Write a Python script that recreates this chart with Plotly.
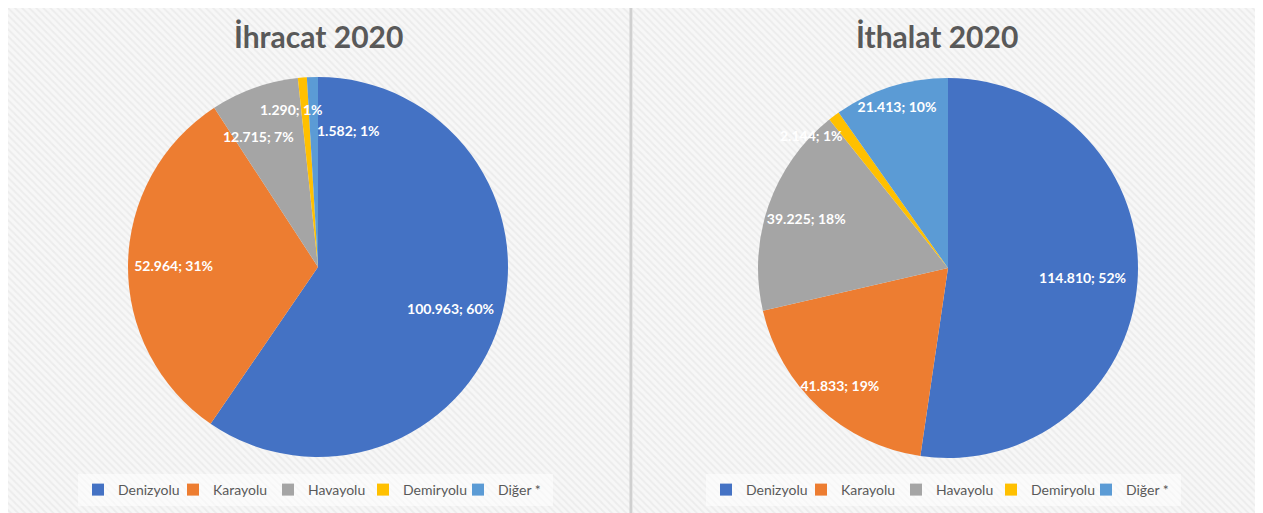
import math
import plotly.graph_objects as go

categories = ["Denizyolu", "Karayolu", "Havayolu", "Demiryolu", "Diğer *"]
ihracat_values = [100963, 52964, 12715, 1290, 1582]
ihracat_pct = [60, 31, 7, 1, 1]
ithalat_values = [114810, 41833, 39225, 2144, 21413]
ithalat_pct = [52, 19, 18, 1, 10]
titles = ["İhracat 2020", "İthalat 2020"]
colors = ["#4472C4", "#ED7D31", "#A5A5A5", "#FFC000", "#5B9BD5"]

# screen size; the page body has an 8px default margin, so the figure sits at (8, 8)
W, H, OFF = 1263, 513, 8
FW, FH = W - OFF, H - OFF
FONT = "Lato"


def px(x):
    return (x - OFF) / FW


def py(y):
    return (H - y) / FH


fmt = lambda v: f"{v:,}".replace(",", ".")

fig = go.Figure()


def panel(x0, x1, y0, y1):
    fig.add_trace(go.Scatter(
        x=[x0, x1, x1, x0, x0], y=[y0, y0, y1, y1, y0],
        mode="lines", fill="toself", line=dict(width=0),
        fillcolor="#f4f4f4",
        fillpattern=dict(shape="\\", bgcolor="#f7f7f7", fgcolor="#e2e2e2",
                         size=5, solidity=0.35),
        hoverinfo="skip", showlegend=False))


panel(8, 630, 5, H)
panel(633, W, 6, H)

centers = [(318, 267), (948, 268)]
title_x = [318, 937]
legend_left = [78, 706]
R = 190
# radial position (fraction of radius) of the labels of wide slices (style only)
label_radius = {
    (0, 0): 0.73, (0, 1): 0.76,
    (1, 0): 0.71, (1, 1): 0.84, (1, 2): 0.79, (1, 4): 0.89,
}
# placement of labels for thin slices (style only)
small_label_style = {
    (0, 2): dict(rr=0.75, xanchor="center", xshift=-12, yshift=-4),
    (0, 3): dict(rr=0.83, xanchor="right", xshift=20, yshift=0),
    (0, 4): dict(rr=0.72, xanchor="left", xshift=1, yshift=0),
    (1, 3): dict(rr=0.83, xanchor="right", xshift=-8, yshift=6),
}

series = [(ihracat_values, ihracat_pct), (ithalat_values, ithalat_pct)]
for i, ((cx, cy), (vals, pct), ttl) in enumerate(zip(centers, series, titles)):
    dom = dict(x=[px(cx - R), px(cx + R)], y=[py(cy + R), py(cy - R)])
    labels = categories if i == 0 else [c + " " for c in categories]
    lg = "legend" if i == 0 else "legend2"
    total = sum(vals)
    small = [v / total < 0.08 for v in vals]
    for k, a in [(8, 0.025), (6, 0.03), (4, 0.04), (2, 0.05)]:
        fig.add_shape(type="circle", xref="x", yref="y", layer="below",
                      x0=cx - R - k + 2, x1=cx + R + k + 2, y0=cy - R - k + 3, y1=cy + R + k + 3,
                      fillcolor=f"rgba(0,0,0,{a})", line=dict(width=0))
    fig.add_trace(go.Pie(
        labels=labels, values=vals, sort=False, direction="clockwise", rotation=0,
        marker=dict(colors=colors, line=dict(width=0)),
        textinfo="none", domain=dom, legend=lg,
        hoverinfo="label+value+percent"))
    # transparent rings carrying the data labels of the wide slices
    radii = sorted({label_radius.get((i, j), 0.75) for j in range(len(vals)) if not small[j]})
    for rr in radii:
        tmpl = ["%{value:,}; %{customdata}%"
                if (not small[j] and label_radius.get((i, j), 0.75) == rr) else ""
                for j in range(len(vals))]
        fig.add_trace(go.Pie(
            labels=labels, values=vals, customdata=pct, sort=False, direction="clockwise",
            rotation=0, hole=2 * rr - 1, showlegend=False,
            marker=dict(colors=["rgba(0,0,0,0)"] * len(vals), line=dict(width=0)),
            texttemplate=tmpl,
            textposition="inside", insidetextorientation="horizontal",
            textfont=dict(family=FONT, size=14, color="white", weight="bold"),
            domain=dom, hoverinfo="skip"))
    # labels of the thin slices, placed on their bisector
    cum = 0
    for j, v in enumerate(vals):
        mid = (cum + v / 2) / total
        cum += v
        if not small[j]:
            continue
        st = small_label_style.get((i, j), dict(rr=0.8, xanchor="center", xshift=0, yshift=0))
        th = 2 * math.pi * mid
        fig.add_annotation(
            x=cx + st["rr"] * R * math.sin(th), y=cy - st["rr"] * R * math.cos(th),
            xref="x", yref="y", showarrow=False, text=f"{fmt(v)}; {pct[j]}%",
            xanchor=st["xanchor"], yanchor="middle", xshift=st["xshift"], yshift=st["yshift"],
            font=dict(family=FONT, size=14, color="white", weight="bold"))
    fig.add_annotation(text=ttl, x=px(title_x[i]), y=py(36),
                       xref="paper", yref="paper", showarrow=False,
                       xanchor="center", yanchor="middle",
                       font=dict(family=FONT, size=30, color="#595959", weight="bold"))

fig.add_shape(type="line", xref="x", yref="y", x0=631, x1=631, y0=0, y1=H,
              line=dict(color="#d0d0d0", width=3))
fig.add_shape(type="line", xref="x", yref="y", x0=633, x1=W, y0=6, y1=6,
              line=dict(color="#dcdcdc", width=1))

legend_common = dict(orientation="h", xanchor="left", yanchor="middle",
                     bgcolor="rgba(255,255,255,0.55)", borderwidth=0,
                     font=dict(family=FONT, size=14, color="#595959"),
                     itemwidth=30, entrywidth=50, entrywidthmode="pixels",
                     itemclick=False, itemdoubleclick=False)

fig.update_layout(
    width=FW, height=FH, margin=dict(l=0, r=0, t=0, b=0),
    paper_bgcolor="white", plot_bgcolor="white",
    separators=",.",
    uniformtext=dict(minsize=14, mode="show"),
    xaxis=dict(range=[OFF, W], visible=False, fixedrange=True, domain=[0, 1]),
    yaxis=dict(range=[H, OFF], visible=False, fixedrange=True, domain=[0, 1]),
    legend=dict(x=px(legend_left[0]), y=py(490), **legend_common),
    legend2=dict(x=px(legend_left[1]), y=py(490), **legend_common),
    showlegend=True,
)

fig.write_html("out.html")
